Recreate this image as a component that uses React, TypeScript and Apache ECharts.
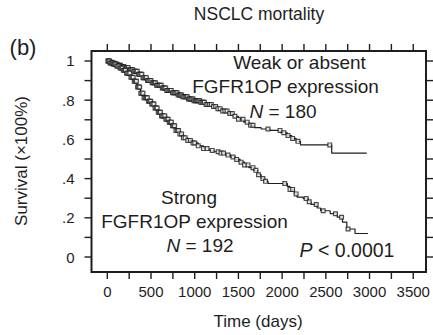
import React, { useEffect, useRef } from "react";
import * as echarts from "echarts";

// Kaplan-Meier: weak or absent FGFR1OP expression (N = 180)
const weakTimes = [0, 30, 60, 90, 120, 160, 200, 250, 300, 350, 400, 450, 500, 560, 620, 680, 740, 800, 860, 920, 990, 1060, 1130, 1200, 1260, 1320, 1380, 1440, 1500, 1560, 1620, 1680, 1760, 1860, 1980, 2060, 2110, 2160, 2210, 2567, 2968];
const weakSurv = [1.0, 0.994, 0.989, 0.983, 0.978, 0.972, 0.966, 0.955, 0.948, 0.932, 0.915, 0.9, 0.889, 0.876, 0.862, 0.85, 0.838, 0.826, 0.817, 0.806, 0.797, 0.789, 0.778, 0.768, 0.757, 0.745, 0.732, 0.718, 0.703, 0.688, 0.672, 0.66, 0.653, 0.646, 0.634, 0.62, 0.605, 0.59, 0.572, 0.53, 0.53];
const weakCensor = [10, 22, 35, 48, 60, 72, 85, 98, 110, 124, 137, 150, 162, 175, 188, 200, 214, 227, 240, 252, 265, 278, 290, 304, 317, 330, 342, 356, 369, 382, 395, 408, 420, 434, 447, 460, 472, 486, 499, 512, 525, 538, 550, 564, 577, 590, 602, 616, 629, 642, 655, 668, 680, 694, 707, 720, 732, 746, 759, 772, 785, 798, 810, 824, 837, 850, 862, 876, 889, 902, 915, 928, 940, 954, 967, 980, 992, 1006, 1019, 1032, 1045, 1058, 1070, 1084, 1097, 1110, 1130, 1150, 1170, 1190, 1215, 1240, 1265, 1290, 1320, 1345, 1370, 1400, 1430, 1460, 1500, 1553, 1600, 1640, 1667, 1838, 1976, 2020, 2067, 2120, 2181, 2545];

// Kaplan-Meier: strong FGFR1OP expression (N = 192)
const strongTimes = [0, 30, 60, 100, 140, 180, 220, 260, 300, 340, 380, 420, 460, 500, 540, 580, 620, 660, 700, 740, 780, 820, 870, 920, 980, 1040, 1100, 1160, 1220, 1290, 1350, 1410, 1470, 1520, 1570, 1620, 1670, 1720, 1760, 1800, 1840, 2060, 2090, 2140, 2170, 2240, 2300, 2330, 2400, 2440, 2550, 2630, 2690, 2740, 2834, 2982];
const strongSurv = [1.0, 0.99, 0.984, 0.974, 0.964, 0.953, 0.938, 0.917, 0.897, 0.867, 0.836, 0.812, 0.795, 0.78, 0.76, 0.738, 0.72, 0.703, 0.688, 0.67, 0.645, 0.628, 0.608, 0.595, 0.582, 0.567, 0.553, 0.544, 0.537, 0.53, 0.52, 0.51, 0.498, 0.484, 0.47, 0.456, 0.442, 0.42, 0.4, 0.386, 0.375, 0.36, 0.345, 0.322, 0.306, 0.298, 0.282, 0.268, 0.25, 0.236, 0.221, 0.203, 0.178, 0.143, 0.12, 0.12];
const strongCensor = [8, 20, 32, 45, 57, 70, 82, 95, 108, 120, 133, 146, 158, 170, 183, 196, 208, 220, 233, 246, 258, 270, 283, 296, 308, 320, 333, 346, 358, 370, 383, 396, 408, 420, 433, 446, 458, 470, 483, 496, 508, 520, 533, 546, 558, 570, 583, 596, 608, 620, 633, 646, 658, 670, 683, 696, 708, 720, 733, 746, 758, 770, 785, 800, 815, 830, 850, 870, 890, 920, 950, 981, 1000, 1040, 1100, 1141, 1200, 1268, 1300, 1330, 1381, 1438, 1480, 1530, 1570, 1610, 1667, 1700, 1730, 1780, 1810, 2030, 2090, 2120, 2160, 2275, 2310, 2390, 2470, 2610, 2680, 2754];

const xTickValues = [0, 250, 500, 750, 1000, 1250, 1500, 1750, 2000, 2250, 2500, 2750, 3000, 3250, 3500];
const xLabelValues = [0, 500, 1000, 1500, 2000, 2500, 3000, 3500];
const yTickValues = [0, 0.1, 0.2, 0.3, 0.4, 0.5, 0.6, 0.7, 0.8, 0.9, 1];
const yLabelValues = [0, 0.2, 0.4, 0.6, 0.8, 1];
const yLabelText = ["0", ".2", ".4", ".6", ".8", "1"];

const X_MIN = -181;
const X_MAX = 3646;
const Y_MIN = -0.0765;
const Y_MAX = 1.051;

const FONT = "'Liberation Sans', Arial, Helvetica, sans-serif";
const INK = "#1e1e1e";
const TICK = 7;
const TW = 1.4;

function survAt(times: number[], surv: number[], t: number): number {
  let v = surv[0];
  for (let i = 0; i < times.length; i++) {
    if (times[i] <= t) v = surv[i];
    else break;
  }
  return v;
}

export default function App() {
  const ref = useRef<HTMLDivElement>(null);
  useEffect(() => {
    if (!ref.current) return;
    const chart = echarts.init(ref.current, undefined, { renderer: "svg" });
    const lineData = (ts: number[], ss: number[]) => ts.map((t, i) => [t, ss[i]]);
    const censorData = (cs: number[], ts: number[], ss: number[]) => cs.map((c) => [c, survAt(ts, ss, c)]);
    const axisLine = { show: false, onZero: false };
    const markerStyle = { color: "#ffffff", borderColor: INK, borderWidth: 1.2 };
    const tickItem = { color: INK, borderWidth: 0, opacity: 1 };
    const tickSeries = (data: number[][], size: number[], offset: number[]) => ({
      type: "scatter",
      data,
      symbol: "rect",
      symbolSize: size,
      symbolOffset: offset,
      clip: false,
      silent: true,
      itemStyle: tickItem,
      z: 12,
    });
    const txt = (x: number, y: number, text: string, size: number, extra: any = {}) => ({
      type: "text",
      x,
      y,
      ...extra,
      style: {
        text,
        font: `${size}px ${FONT}`,
        fill: INK,
        align: "center",
        verticalAlign: "middle",
        rich: { i: { fontStyle: "italic", fontSize: size, fontFamily: FONT, fill: INK } },
      },
    });
    chart.setOption({
      animation: false,
      grid: { left: 91.5, right: 7, top: 51, bottom: 63, containLabel: false },
      xAxis: {
        type: "value",
        min: X_MIN,
        max: X_MAX,
        splitLine: { show: false },
        axisLine,
        axisTick: { show: false },
        axisLabel: {
          show: true,
          margin: 12,
          fontSize: 15,
          fontFamily: FONT,
          color: INK,
          customValues: xLabelValues,
          formatter: (v: number) => String(Math.round(v)),
        },
      },
      yAxis: {
        type: "value",
        min: Y_MIN,
        max: Y_MAX,
        splitLine: { show: false },
        axisLine,
        axisTick: { show: false },
        axisLabel: {
          show: true,
          margin: 17,
          fontSize: 15,
          fontFamily: FONT,
          color: INK,
          customValues: yLabelValues,
          formatter: (v: number) => {
            const i = yLabelValues.findIndex((y) => Math.abs(y - v) < 1e-6);
            return i >= 0 ? yLabelText[i] : "";
          },
        },
      },
      series: [
        {
          type: "line",
          step: "end",
          data: lineData(weakTimes, weakSurv),
          showSymbol: false,
          lineStyle: { color: INK, width: 1.2 },
          z: 2,
        },
        {
          type: "line",
          step: "end",
          data: lineData(strongTimes, strongSurv),
          showSymbol: false,
          lineStyle: { color: INK, width: 1.2 },
          z: 2,
        },
        {
          type: "scatter",
          data: censorData(weakCensor, weakTimes, weakSurv),
          symbol: "rect",
          symbolSize: 3.8,
          itemStyle: markerStyle,
          z: 3,
        },
        {
          type: "scatter",
          data: censorData(strongCensor, strongTimes, strongSurv),
          symbol: "rect",
          symbolSize: 3.8,
          itemStyle: markerStyle,
          z: 3,
        },
        tickSeries(xTickValues.map((v) => [v, Y_MIN]), [TW, TICK], [0, TICK / 2]),
        tickSeries(xTickValues.map((v) => [v, Y_MAX]), [TW, TICK], [0, -TICK / 2]),
        tickSeries(yTickValues.map((v) => [X_MIN, v]), [TICK, TW], [-TICK / 2, 0]),
        tickSeries(yTickValues.map((v) => [X_MAX, v]), [TICK, TW], [TICK / 2, 0]),
      ],
      graphic: [
        {
          type: "rect",
          shape: { x: 91.5, y: 51, width: 334.5, height: 221 },
          style: { fill: "transparent", stroke: INK, lineWidth: 2 },
          z: 10,
        },
        txt(259, 14, "NSCLC mortality", 17.5),
        txt(23, 47, "(b)", 22),
        txt(258, 321, "Time (days)", 17),
        txt(21, 161, "Survival (×100%)", 17, { rotation: Math.PI / 2 }),
        txt(299.5, 62, "Weak or absent", 19),
        txt(285.5, 86, "FGFR1OP expression", 19),
        txt(283, 111, "{i|N} = 180", 19),
        txt(189, 197, "Strong", 19),
        txt(194.5, 221, "FGFR1OP expression", 19),
        txt(200, 245, "{i|N} = 192", 19),
        txt(347, 250, "{i|P} < 0.0001", 19.5),
      ],
    });
    return () => chart.dispose();
  }, []);
  return <div ref={ref} style={{ width: 433, height: 335, position: "absolute", left: 0, top: 0 }} />;
}
